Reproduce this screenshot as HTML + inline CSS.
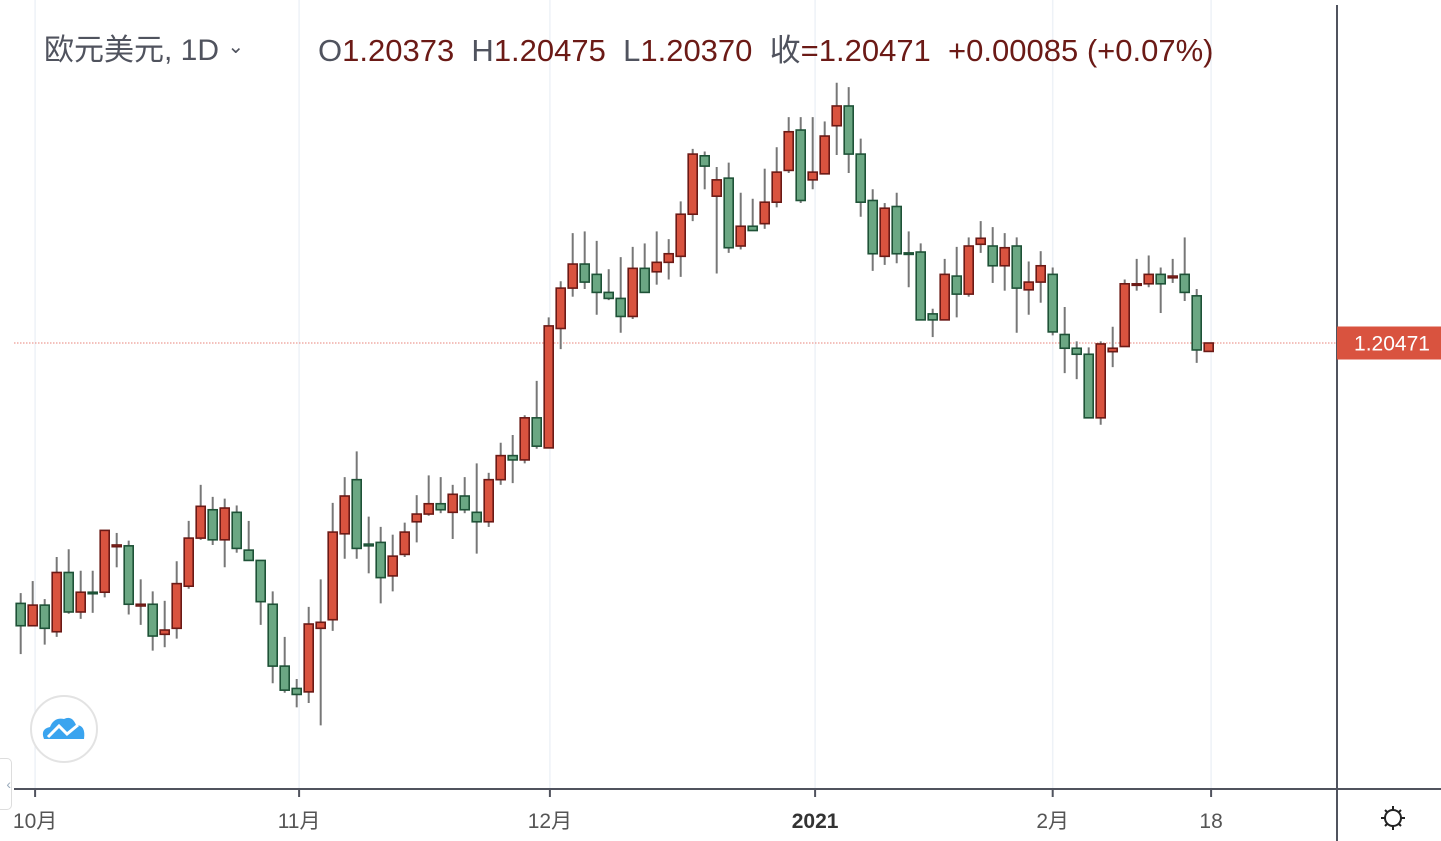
<!DOCTYPE html>
<html><head><meta charset="utf-8">
<style>
html,body{margin:0;padding:0;background:#fff;}
body{width:1441px;height:841px;overflow:hidden;position:relative;font-family:"Liberation Sans","Noto Sans CJK SC",sans-serif;}
svg{position:absolute;left:0;top:0;}
</style></head>
<body>
<svg id="chart" width="1441" height="841"></svg>
<script>
const opens  = [1.1744,1.1718,1.1742,1.1711,1.1780,1.1734,1.1757,1.1757,1.1810,1.1811,1.1741,1.1743,1.1708,1.1715,1.1764,1.1820,1.1853,1.1818,1.1850,1.1806,1.1794,1.1743,1.1671,1.1645,1.1641,1.1715,1.1725,1.1825,1.1888,1.1813,1.1815,1.1776,1.1801,1.1839,1.1848,1.1860,1.1850,1.1869,1.1850,1.1839,1.1888,1.1916,1.1911,1.1960,1.1925,1.2064,1.2111,1.2139,1.2127,1.2106,1.2099,1.2078,1.2134,1.2130,1.2141,1.2148,1.2197,1.2265,1.2218,1.2239,1.2160,1.2183,1.2186,1.2211,1.2248,1.2295,1.2237,1.2244,1.2300,1.2323,1.2267,1.2213,1.2148,1.2206,1.2152,1.2153,1.2081,1.2074,1.2125,1.2104,1.2162,1.2160,1.2137,1.2160,1.2109,1.2118,1.2127,1.2057,1.2041,1.2034,1.1960,1.2037,1.2043,1.2115,1.2116,1.2127,1.2123,1.2127,1.2102,1.20373];
const highs  = [1.1756,1.1770,1.1749,1.1798,1.1807,1.1782,1.1782,1.1829,1.1826,1.1817,1.1772,1.1758,1.1747,1.1793,1.1840,1.1882,1.1868,1.1866,1.1858,1.1840,1.1794,1.1758,1.1705,1.1656,1.1740,1.1772,1.1861,1.1891,1.1921,1.1845,1.1833,1.1824,1.1838,1.1870,1.1893,1.1891,1.1882,1.1891,1.1907,1.1896,1.1931,1.1940,1.1963,1.2003,1.2077,1.2119,1.2175,1.2177,1.2166,1.2133,1.2147,1.2159,1.2163,1.2177,1.2168,1.2212,1.2273,1.2270,1.2252,1.2257,1.2222,1.2215,1.2250,1.2275,1.2310,1.2310,1.2310,1.2305,1.2350,1.2345,1.2285,1.2226,1.2210,1.2222,1.2177,1.2163,1.2087,1.2145,1.2159,1.2170,1.2189,1.2182,1.2175,1.2170,1.2142,1.2154,1.2135,1.2089,1.2049,1.2042,1.2049,1.2066,1.2121,1.2145,1.2149,1.2135,1.2145,1.2170,1.2110,1.20475];
const lows   = [1.1685,1.1718,1.1696,1.1705,1.1732,1.1726,1.1733,1.1751,1.1786,1.1731,1.1719,1.1689,1.1693,1.1703,1.1761,1.1818,1.1812,1.1786,1.1803,1.1794,1.1719,1.1651,1.1640,1.1623,1.1628,1.1602,1.1712,1.1796,1.1796,1.1779,1.1744,1.1758,1.1798,1.1815,1.1846,1.1849,1.1819,1.1849,1.1802,1.1833,1.1882,1.1884,1.1907,1.1924,1.1925,1.2040,1.2101,1.2110,1.2080,1.2097,1.2059,1.2075,1.2106,1.2115,1.2121,1.2124,1.2189,1.2226,1.2128,1.2152,1.2156,1.2178,1.2180,1.2205,1.2245,1.2210,1.2226,1.2244,1.2266,1.2245,1.2194,1.2131,1.2138,1.2140,1.2112,1.2074,1.2054,1.2074,1.2077,1.2101,1.2152,1.2117,1.2108,1.2059,1.2080,1.2094,1.2056,1.2012,1.2005,1.1960,1.1952,1.2019,1.2043,1.2108,1.2112,1.2082,1.2117,1.2096,1.2024,1.20370];
const closes = [1.1718,1.1742,1.1715,1.1780,1.1734,1.1757,1.1756,1.1829,1.1812,1.1743,1.1743,1.1706,1.1713,1.1767,1.1820,1.1857,1.1818,1.1855,1.1808,1.1794,1.1746,1.1671,1.1643,1.1638,1.1720,1.1722,1.1827,1.1869,1.1808,1.1811,1.1774,1.1799,1.1827,1.1848,1.1860,1.1853,1.1871,1.1853,1.1839,1.1888,1.1916,1.1911,1.1960,1.1927,1.2067,1.2111,1.2139,1.2118,1.2106,1.2099,1.2078,1.2134,1.2106,1.2141,1.2151,1.2197,1.2267,1.2253,1.2237,1.2158,1.2183,1.2178,1.2211,1.2246,1.2293,1.2213,1.2246,1.2288,1.2323,1.2267,1.2211,1.2151,1.2204,1.2151,1.2151,1.2074,1.2074,1.2127,1.2104,1.2160,1.2169,1.2137,1.2158,1.2111,1.2118,1.2137,1.2060,1.2041,1.2034,1.1960,1.2046,1.2041,1.2116,1.2116,1.2127,1.2116,1.2125,1.2106,1.2039,1.20471];
const monthLabels = ["10月","11月","12月","2021","2月","18"];
const monthIndex  = [1.2,23.2,44.1,66.2,86,99.2];
const lastPrice = 1.20471;

const svg = document.getElementById('chart');
const NS = 'http://www.w3.org/2000/svg';
function xScale(i){ return 20.7 + 12 * i; }
function yScale(p){ return 343 - (p - 1.20471) * 8591; }
function mk(tag, attrs, parent){ const e = document.createElementNS(NS, tag); for (const k in attrs) e.setAttribute(k, attrs[k]); (parent||svg).appendChild(e); return e; }

monthIndex.forEach((m, k) => {
  const g = mk('line', {x1: xScale(m), x2: xScale(m), y1: 0, y2: 789, stroke: '#eef2f7', 'stroke-width': 1.5});
  
  
});
const pl = mk('line', {x1: 14, x2: 1337, y1: yScale(lastPrice), y2: yScale(lastPrice), stroke: '#e8837a', 'stroke-width': 1, 'stroke-dasharray': '1.5 1.5'});



for (let i = 0; i < opens.length; i++) {
  const up = closes[i] >= opens[i];
  const x = xScale(i);
  const g = mk('g', {});
  
  
  mk('line', {x1: x, x2: x, y1: yScale(highs[i]), y2: yScale(lows[i]), stroke: '#777', 'stroke-width': 2}, g);
  const top = yScale(Math.max(opens[i], closes[i]));
  const bot = yScale(Math.min(opens[i], closes[i]));
  const h = Math.max(bot - top, 1.5);
  mk('rect', {x: x - 4.5, y: top, width: 9, height: h, fill: up ? '#d9533f' : '#6ba783', stroke: up ? '#6b1a16' : '#1e5237', 'stroke-width': 1.6}, g);
}

const ax = mk('line', {x1: 14, x2: 1441, y1: 789, y2: 789, stroke: '#50535e', 'stroke-width': 2});


const ay = mk('line', {x1: 1337, x2: 1337, y1: 5, y2: 841, stroke: '#50535e', 'stroke-width': 2});



monthLabels.forEach((lab, k) => {
  const x = xScale(monthIndex[k]);
  const t = mk('line', {x1: x, x2: x, y1: 789, y2: 797, stroke: '#50535e', 'stroke-width': 2});
  
  
  const tx = mk('text', {x: x, y: 828, 'text-anchor': 'middle', 'font-size': 21, fill: lab === '2021' ? '#333' : '#555', 'font-weight': lab === '2021' ? 'bold' : 'normal', 'font-family': '"Liberation Sans","Noto Sans CJK SC",sans-serif'});
  tx.textContent = lab;
  
  
});

const py = yScale(lastPrice);
const tk = mk('line', {x1: 1337, x2: 1345, y1: py, y2: py, stroke: '#e8837a', 'stroke-width': 1.5});


const pr = mk('rect', {x: 1337, y: py - 16.5, width: 104, height: 33, fill: '#d9533f'});


const pt = mk('text', {x: 1392, y: py + 7.5, 'text-anchor': 'middle', 'font-size': 21, fill: '#fff', 'font-family': '"Liberation Sans",sans-serif'});
pt.textContent = lastPrice.toFixed(5);


</script>

<div style="position:absolute;left:44px;top:25px;font-size:30px;color:#50535e;white-space:nowrap;">欧元美元, 1D <span style="font-size:20px;position:relative;top:-7px;">&#8964;</span></div>
<div style="position:absolute;left:318px;top:25px;font-size:31px;color:#50535e;white-space:nowrap;">O<span style="color:#6b1a16">1.20373</span>&nbsp; H<span style="color:#6b1a16">1.20475</span>&nbsp; L<span style="color:#6b1a16">1.20370</span>&nbsp; 收<span style="color:#6b1a16">=1.20471</span>&nbsp; <span style="color:#6b1a16">+0.00085 (+0.07%)</span></div>

<div style="position:absolute;left:30px;top:695px;width:64px;height:64px;border:2px solid #e3e3e3;border-radius:50%;background:#fff;">
<svg width="64" height="64" style="position:absolute;left:0;top:0;"><path d="M12 42 Q8 32 18 30 Q22 20 32 22 Q40 18 44 28 Q54 28 52 42 Z" fill="#3aa4ef"/><polyline points="16,40 27,29 35,37 46,28" fill="none" stroke="#fff" stroke-width="3"/></svg>
</div>
<div style="position:absolute;left:-4px;top:758px;width:14px;height:50px;border:1.5px solid #ddd;border-radius:5px;color:#9ab;font-size:14px;line-height:50px;text-align:right;">&lsaquo;</div>
<div style="position:absolute;left:1378px;top:803px;width:30px;height:30px;">
<svg width="30" height="30"><circle cx="15" cy="15" r="8" fill="none" stroke="#222" stroke-width="2"/><g stroke="#222" stroke-width="2"><line x1="15" y1="3" x2="15" y2="7"/><line x1="15" y1="23" x2="15" y2="27"/><line x1="3" y1="15" x2="7" y2="15"/><line x1="23" y1="15" x2="27" y2="15"/><line x1="7" y1="7" x2="9" y2="9"/><line x1="21" y1="21" x2="23" y2="23"/><line x1="23" y1="7" x2="21" y2="9"/><line x1="7" y1="23" x2="9" y2="21"/></g></svg>
</div>
</body></html>
